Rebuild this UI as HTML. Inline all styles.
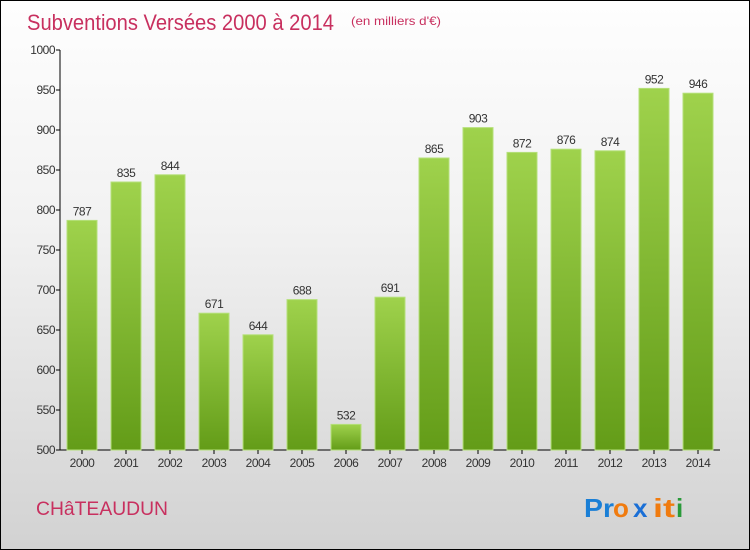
<!DOCTYPE html>
<html><head><meta charset="utf-8"><style>
body{margin:0;}
#c{width:748px;height:548px;border:1px solid #000;background:linear-gradient(#fefefe,#f2f2f2 40%,#d2d2d2);position:relative;font-family:"Liberation Sans",sans-serif;overflow:hidden}
</style></head><body>
<div id="c">
<svg width="748" height="548" id="s">
<defs><linearGradient id="g" x1="0" y1="0" x2="0" y2="1"><stop offset="0" stop-color="#9fd24c"/><stop offset="1" stop-color="#639c18"/></linearGradient></defs>
<text x="26" y="29" font-size="22" fill="#c8305f" textLength="307" lengthAdjust="spacingAndGlyphs">Subventions Versées 2000 à 2014</text>
<text x="350" y="24" font-size="12" fill="#c8305f" textLength="90" lengthAdjust="spacingAndGlyphs">(en milliers d'€)</text>
<text x="35" y="514" font-size="19" fill="#c8305f" textLength="132" lengthAdjust="spacingAndGlyphs">CHâTEAUDUN</text>
<g font-size="26" font-weight="bold">
<text x="583" y="516" fill="#1a7fd6" textLength="30" lengthAdjust="spacingAndGlyphs">Pr</text><text x="612" y="516" fill="#f07b0f">o</text><text x="632" y="516" fill="#1a6fd6">x</text><text x="652" y="516" fill="#f07b0f" textLength="22" lengthAdjust="spacingAndGlyphs">it</text><text x="675" y="516" fill="#2a9a3a">i</text>
</g>
<g id="ax"></g><g id="bars"></g>
</svg></div>
<script>
const categories=["2000","2001","2002","2003","2004","2005","2006","2007","2008","2009","2010","2011","2012","2013","2014"];
const values=[787,835,844,671,644,688,532,691,865,903,872,876,874,952,946];
const ticks=[500,550,600,650,700,750,800,850,900,950,1000];
const NS="http://www.w3.org/2000/svg";
const y=v=>449-(v-500)*0.8, x=i=>59+44*i;
function mk(t,a,p){const e=document.createElementNS(NS,t);for(const k in a)e.setAttribute(k,a[k]);p.appendChild(e);return e;}
const ax=document.getElementById('ax'),bars=document.getElementById('bars');
let l=mk('line',{x1:59,y1:49,x2:59,y2:449,stroke:'#000'},ax);


l=mk('line',{x1:59,y1:449,x2:719,y2:449,stroke:'#000'},ax);


ticks.forEach(t=>{
 const g=mk('g',{},ax);
 
 
 mk('line',{x1:55,y1:y(t),x2:59,y2:y(t),stroke:'#000'},g);
 const tx=mk('text',{x:54,y:y(t)+4,'text-anchor':'end','font-size':12,fill:'#333','letter-spacing':'-0.5'},g);tx.textContent=t;
});
categories.forEach((c,i)=>{
 const g=mk('g',{},bars);
 
 
 mk('rect',{x:x(i)+7,y:y(values[i]),width:30,height:449-y(values[i]),fill:'url(#g)',stroke:'#b5e07a','stroke-width':1},g);
 let t=mk('text',{x:x(i)+22,y:y(values[i])-5,'text-anchor':'middle','font-size':12,fill:'#333','letter-spacing':'-0.5'},g);t.textContent=values[i];
 mk('line',{x1:x(i)+22,y1:449,x2:x(i)+22,y2:453,stroke:'#000'},g);
 t=mk('text',{x:x(i)+22,y:466,'text-anchor':'middle','font-size':12,fill:'#333','letter-spacing':'-0.5'},g);t.textContent=c;
});
</script>
</body></html>
